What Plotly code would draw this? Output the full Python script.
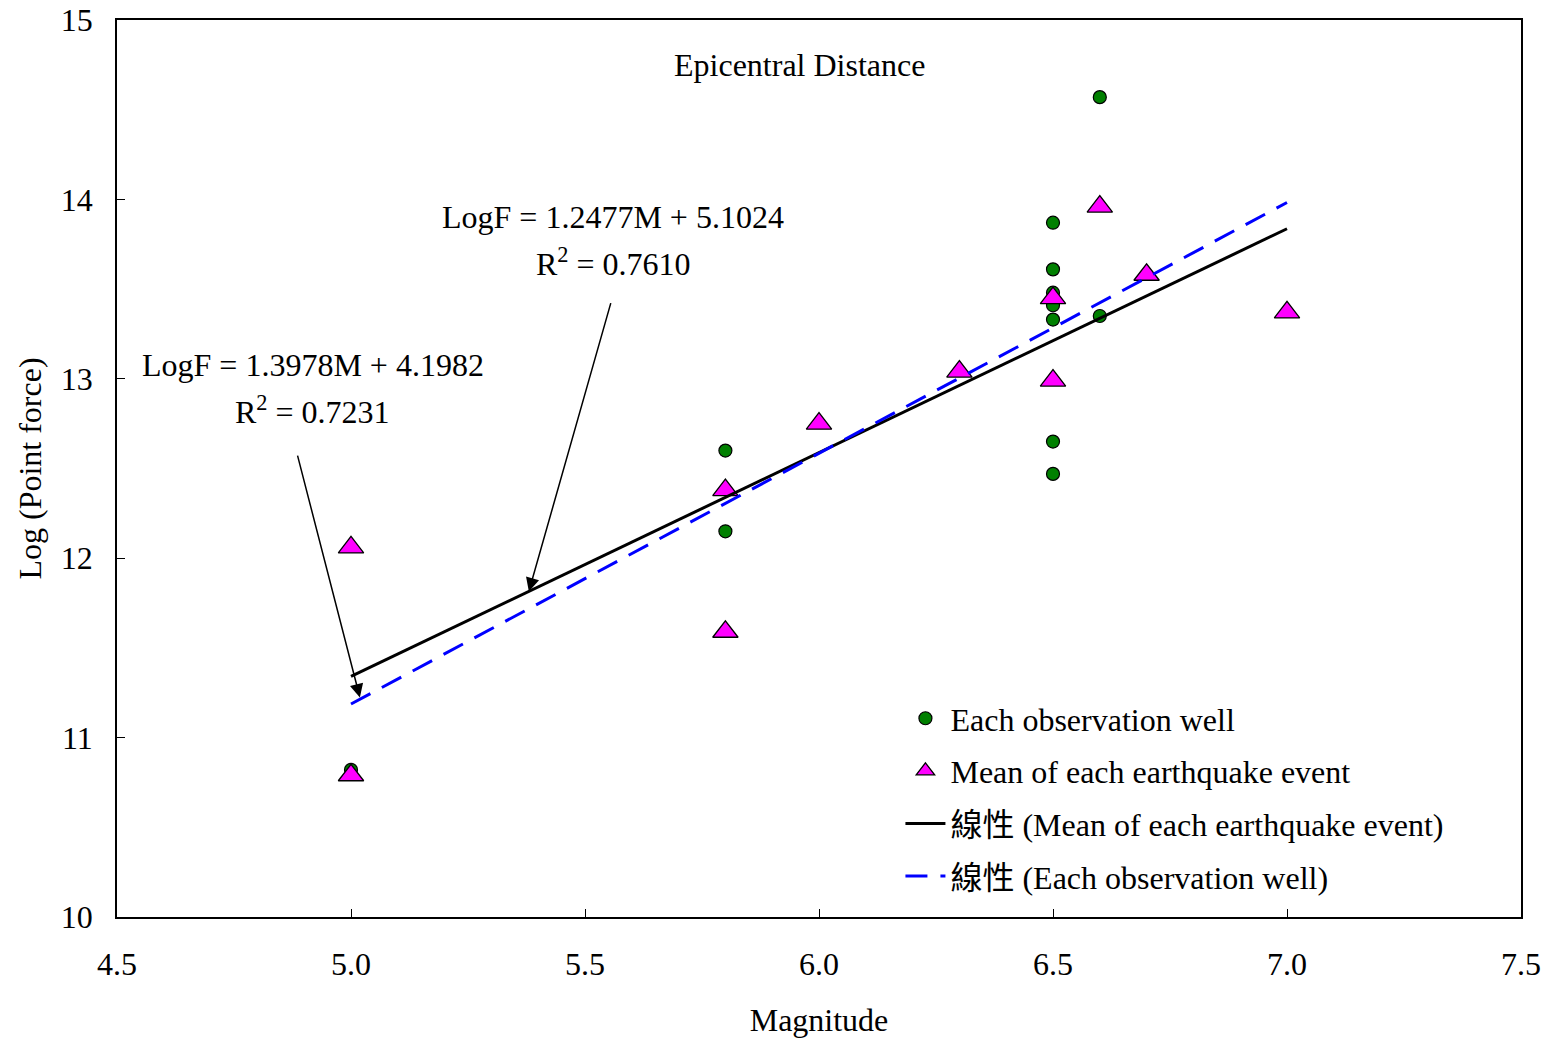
import plotly.graph_objects as go

# Data
well_mag = [5.0, 5.8, 5.8, 6.5, 6.5, 6.5, 6.5, 6.5, 6.5, 6.5, 6.6, 6.6]
well_logf = [10.82, 12.60, 12.15, 13.87, 13.61, 13.48, 13.41, 13.33, 12.65, 12.47, 14.57, 13.35]

mean_mag = [5.0, 5.0, 5.8, 5.8, 6.0, 6.3, 6.5, 6.5, 6.6, 6.7, 7.0]
mean_logf = [12.06, 10.79, 12.38, 11.59, 12.75, 13.04, 13.45, 12.99, 13.96, 13.58, 13.37]

mean_fit = (1.2477, 5.1024, 0.7610)   # slope, intercept, R^2
well_fit = (1.3978, 4.1982, 0.7231)

x_ticks = [4.5, 5.0, 5.5, 6.0, 6.5, 7.0, 7.5]
y_ticks = [10, 11, 12, 13, 14, 15]

FONT = "Liberation Serif, Times New Roman, Noto Sans CJK TC, serif"
FS = 32

fit_x = [min(mean_mag), max(mean_mag)]
mean_line_y = [mean_fit[0] * x + mean_fit[1] for x in fit_x]
well_line_y = [well_fit[0] * x + well_fit[1] for x in fit_x]

fig = go.Figure()
fig.add_trace(go.Scatter(
    x=well_mag, y=well_logf, mode="markers", name="Each observation well",
    legendgroup="a",
    marker=dict(symbol="circle", size=13, color="#008000",
                line=dict(color="black", width=1.2))))
fig.add_trace(go.Scatter(
    x=mean_mag, y=mean_logf, mode="markers", name="Mean of each earthquake event",
    legendgroup="b",
    marker=dict(symbol="triangle-up", size=22, color="#FF00FF",
                line=dict(color="black", width=1.3))))
fig.add_trace(go.Scatter(
    x=fit_x, y=mean_line_y, mode="lines", name="線性 (Mean of each earthquake event)",
    legendgroup="c",
    line=dict(color="black", width=3)))
fig.add_trace(go.Scatter(
    x=fit_x, y=well_line_y, mode="lines", name="線性 (Each observation well)",
    legendgroup="d",
    line=dict(color="#0000FF", width=3, dash="22px,13px")))

txt_font = dict(size=FS, family=FONT, color="black")
annotations = [
    dict(x=5.958, y=14.75, xref="x", yref="y", text="Epicentral Distance",
         showarrow=False, font=txt_font),
    dict(x=5.56, y=13.902, xref="x", yref="y",
         text=f"LogF = {mean_fit[0]:.4f}M + {mean_fit[1]:.4f}",
         showarrow=False, font=txt_font),
    dict(x=5.56, y=13.651, xref="x", yref="y",
         text=f"R<sup>2</sup> = {mean_fit[2]:.4f}",
         showarrow=False, font=txt_font),
    dict(x=4.918, y=13.077, xref="x", yref="y",
         text=f"LogF = {well_fit[0]:.4f}M + {well_fit[1]:.4f}",
         showarrow=False, font=txt_font),
    dict(x=4.918, y=12.826, xref="x", yref="y",
         text=f"R<sup>2</sup> = {well_fit[2]:.4f}",
         showarrow=False, font=txt_font),
    # arrows
    dict(x=5.38, y=mean_fit[0] * 5.38 + mean_fit[1], ax=5.556, ay=13.43,
         xref="x", yref="y", axref="x", ayref="y", text="", showarrow=True,
         arrowhead=2, arrowsize=1.8, arrowwidth=1.5, arrowcolor="black"),
    dict(x=5.019, y=well_fit[0] * 5.019 + well_fit[1] + 0.01, ax=4.885, ay=12.58,
         xref="x", yref="y", axref="x", ayref="y", text="", showarrow=True,
         arrowhead=2, arrowsize=1.8, arrowwidth=1.5, arrowcolor="black"),
]

fig.update_layout(
    width=1551, height=1038,
    margin=dict(l=117, r=30, t=20, b=121),
    paper_bgcolor="white", plot_bgcolor="white",
    font=dict(family=FONT, size=FS, color="black"),
    showlegend=True,
    legend=dict(x=0.558, y=0.252, xanchor="left", yanchor="top",
                bgcolor="rgba(0,0,0,0)", font=dict(size=FS, family=FONT),
                tracegroupgap=8, itemwidth=40),
    annotations=annotations,
)
fig.update_xaxes(
    range=[4.5, 7.5], tickvals=x_ticks, ticktext=[f"{v:.1f}" for v in x_ticks],
    showgrid=False, zeroline=False, showline=True, linecolor="black", linewidth=1.5,
    mirror=True, ticks="inside", ticklen=8, tickcolor="black",
    ticklabelstandoff=18, automargin=False,
    title=dict(text="Magnitude", font=dict(size=FS, family=FONT), standoff=28),
)
fig.update_yaxes(
    range=[10, 15], tickvals=y_ticks, ticktext=[str(v) for v in y_ticks],
    showgrid=False, zeroline=False, showline=True, linecolor="black", linewidth=1.5,
    mirror=True, ticks="inside", ticklen=8, tickcolor="black",
    ticklabelstandoff=16, automargin=False,
    title=dict(text="Log (Point force)", font=dict(size=FS, family=FONT), standoff=10),
)

fig.write_html("out.html")
